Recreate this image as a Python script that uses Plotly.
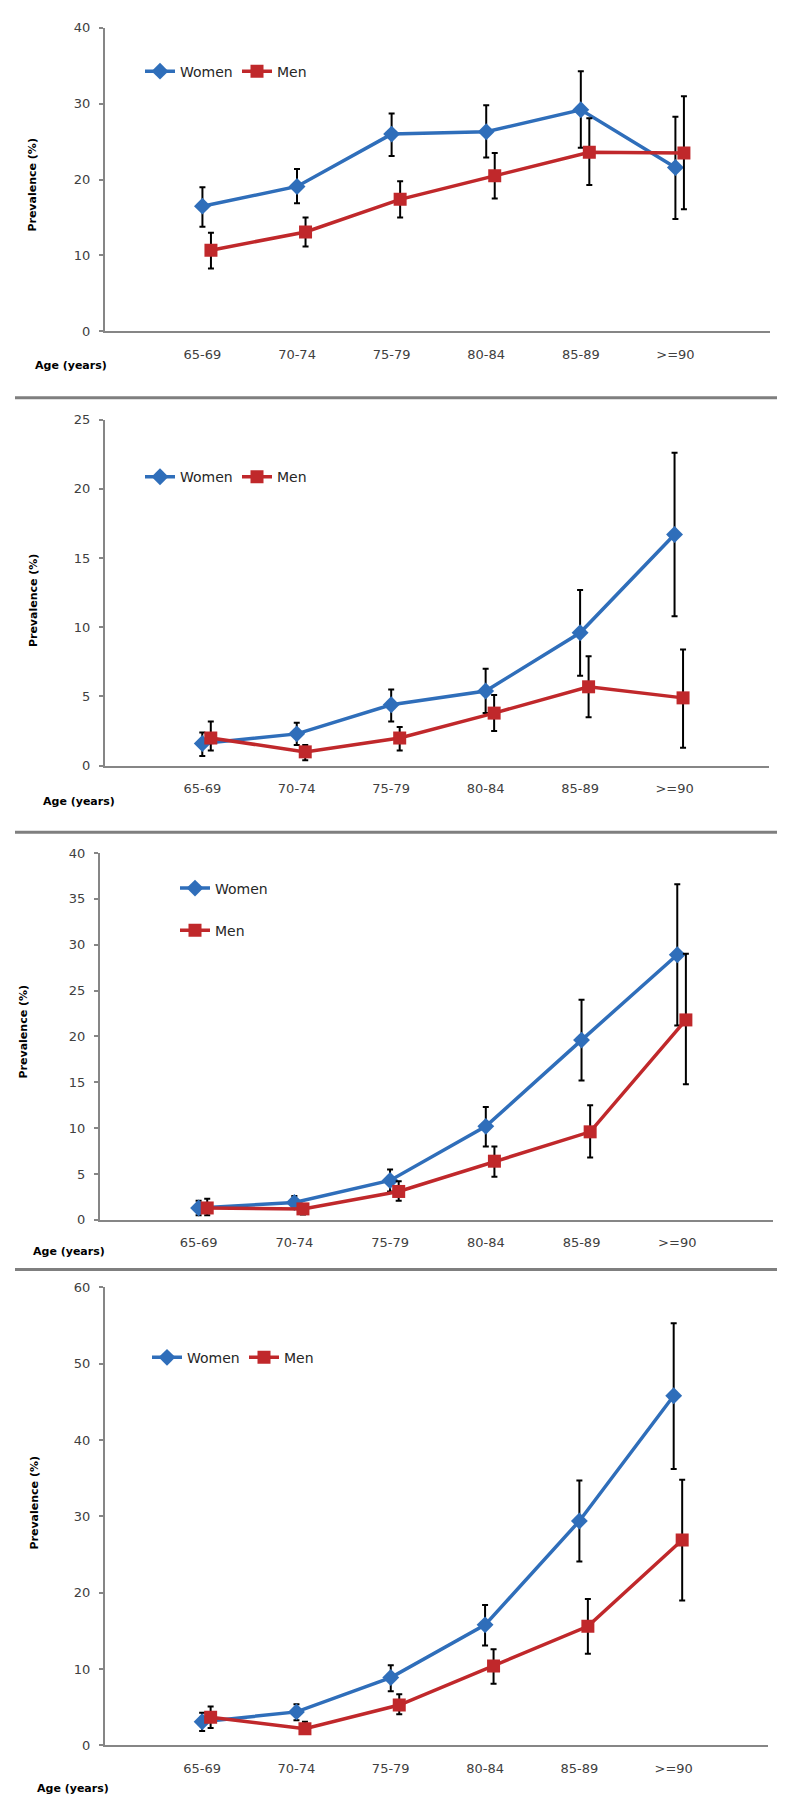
import plotly.graph_objects as go

W, H = 785, 1804

categories = ["65-69", "70-74", "75-79", "80-84", "85-89", ">=90"]

# Panel 1
p1_women = [16.5, 19.1, 26.0, 26.3, 29.2, 21.6]
p1_women_hi = [19.0, 21.4, 28.7, 29.8, 34.3, 28.3]
p1_women_lo = [13.8, 16.9, 23.1, 22.9, 24.2, 14.8]
p1_men = [10.7, 13.1, 17.4, 20.5, 23.6, 23.5]
p1_men_hi = [13.0, 15.0, 19.8, 23.5, 28.1, 31.0]
p1_men_lo = [8.3, 11.2, 15.0, 17.5, 19.3, 16.1]

# Panel 2
p2_women = [1.6, 2.3, 4.4, 5.4, 9.6, 16.7]
p2_women_hi = [2.4, 3.1, 5.5, 7.0, 12.7, 22.6]
p2_women_lo = [0.7, 1.5, 3.2, 3.8, 6.5, 10.8]
p2_men = [2.0, 1.0, 2.0, 3.8, 5.7, 4.9]
p2_men_hi = [3.2, 1.5, 2.8, 5.1, 7.9, 8.4]
p2_men_lo = [1.1, 0.4, 1.1, 2.5, 3.5, 1.3]

# Panel 3
p3_women = [1.3, 1.9, 4.3, 10.2, 19.6, 28.9]
p3_women_hi = [2.1, 2.6, 5.5, 12.3, 24.0, 36.6]
p3_women_lo = [0.5, 1.2, 3.1, 8.0, 15.2, 21.2]
p3_men = [1.3, 1.2, 3.1, 6.4, 9.6, 21.8]
p3_men_hi = [2.3, 1.6, 4.2, 8.0, 12.5, 29.0]
p3_men_lo = [0.5, 0.6, 2.1, 4.7, 6.8, 14.8]

# Panel 4
p4_women = [3.1, 4.4, 8.9, 15.8, 29.4, 45.8]
p4_women_hi = [4.3, 5.4, 10.5, 18.4, 34.7, 55.3]
p4_women_lo = [1.9, 3.3, 7.1, 13.1, 24.1, 36.2]
p4_men = [3.7, 2.2, 5.3, 10.4, 15.6, 26.9]
p4_men_hi = [5.1, 3.1, 6.7, 12.6, 19.2, 34.8]
p4_men_lo = [2.3, 1.5, 4.1, 8.1, 12.0, 19.0]

y_max = [40, 25, 40, 60]
y_dtick = [10, 5, 5, 10]

BLUE = "#2F6EBA"
RED = "#C0282B"
AXIS = "#868686"
FONT = "DejaVu Sans"


def fx(px):
    return px / W


def fy(py):
    return 1 - py / H


panels = [
    dict(w=p1_women, wh=p1_women_hi, wl=p1_women_lo, m=p1_men, mh=p1_men_hi, ml=p1_men_lo,
         x0=97, x1=762, ytop=13, ybot=319, leg=(132, 57), vert=False,
         agex=25, agey=353, prevx=25, prevy=171),
    dict(w=p2_women, wh=p2_women_hi, wl=p2_women_lo, m=p2_men, mh=p2_men_hi, ml=p2_men_lo,
         x0=97, x1=761, ytop=408, ybot=757, leg=(132, 466), vert=False,
         agex=33, agey=793, prevx=25, prevy=590),
    dict(w=p3_women, wh=p3_women_hi, wl=p3_women_lo, m=p3_men, mh=p3_men_hi, ml=p3_men_lo,
         x0=92, x1=765, ytop=845, ybot=1215, leg=(167, 902), vert=True,
         agex=23, agey=1247, prevx=15, prevy=1025),
    dict(w=p4_women, wh=p4_women_hi, wl=p4_women_lo, m=p4_men, mh=p4_men_hi, ml=p4_men_lo,
         x0=97, x1=760, ytop=1283, ybot=1745, leg=(139, 1354), vert=False,
         agex=27, agey=1788, prevx=27, prevy=1500),
]

fig = go.Figure()
idx = list(range(len(categories)))
men_offset = 0.09

annotations = []
layout_axes = {}
for k, p in enumerate(panels):
    n = k + 1
    xa = "x" if n == 1 else f"x{n}"
    ya = "y" if n == 1 else f"y{n}"
    legname = "legend" if n == 1 else f"legend{n}"

    fig.add_trace(go.Scatter(
        x=idx, y=p["w"], name="Women", mode="lines+markers",
        xaxis=xa, yaxis=ya, legend=legname, legendgroup=f"w{n}",
        line=dict(color=BLUE, width=3.5),
        marker=dict(symbol="diamond", size=13, color=BLUE),
        error_y=dict(type="data", symmetric=False,
                     array=[h - v for h, v in zip(p["wh"], p["w"])],
                     arrayminus=[v - l for v, l in zip(p["w"], p["wl"])],
                     color="black", thickness=2, width=3),
    ))
    fig.add_trace(go.Scatter(
        x=[i + men_offset for i in idx], y=p["m"], name="Men", mode="lines+markers",
        xaxis=xa, yaxis=ya, legend=legname, legendgroup=f"m{n}",
        line=dict(color=RED, width=3.5),
        marker=dict(symbol="square", size=13, color=RED),
        error_y=dict(type="data", symmetric=False,
                     array=[h - v for h, v in zip(p["mh"], p["m"])],
                     arrayminus=[v - l for v, l in zip(p["m"], p["ml"])],
                     color="black", thickness=2, width=3),
    ))

    xkey = "xaxis" if n == 1 else f"xaxis{n}"
    ykey = "yaxis" if n == 1 else f"yaxis{n}"
    layout_axes[xkey] = dict(
        domain=[fx(p["x0"]), fx(p["x1"])], anchor=ya, range=[-1.03, 6.0],
        tickmode="array", tickvals=idx, ticktext=categories,
        showgrid=False, zeroline=False, showline=True, linecolor=AXIS, linewidth=2,
        ticks="", ticklabelstandoff=10,
        tickfont=dict(family=FONT, size=13, color="#404040"),
    )
    layout_axes[ykey] = dict(
        domain=[fy(p["ybot"]), fy(p["ytop"])], anchor=xa, range=[0, y_max[k]],
        tickmode="linear", tick0=0, dtick=y_dtick[k],
        showgrid=False, zeroline=False, showline=True, linecolor=AXIS, linewidth=2,
        ticks="outside", ticklen=4, tickwidth=2, tickcolor=AXIS, ticklabelstandoff=6,
        tickfont=dict(family=FONT, size=13, color="#404040"),
    )
    leg = dict(
        x=fx(p["leg"][0]), y=fy(p["leg"][1]), xanchor="left", yanchor="middle",
        orientation="v" if p["vert"] else "h",
        bgcolor="rgba(0,0,0,0)", borderwidth=0,
        font=dict(family=FONT, size=14, color="#262626"),
        itemwidth=30,
    )
    if p["vert"]:
        leg["tracegroupgap"] = 21
    else:
        leg["entrywidth"] = 52
    layout_axes[legname] = leg

    annotations.append(dict(
        text="<b>Age (years)</b>", x=fx(p["agex"]), y=fy(p["agey"]),
        xref="paper", yref="paper", xanchor="left", yanchor="middle", showarrow=False,
        font=dict(family=FONT, size=11, color="black"),
    ))
    annotations.append(dict(
        text="<b>Prevalence (%)</b>", x=fx(p["prevx"]), y=fy(p["prevy"]),
        xref="paper", yref="paper", xanchor="center", yanchor="middle", showarrow=False,
        textangle=-90, font=dict(family=FONT, size=11, color="black"),
    ))

shapes = []
for sep in [386, 824, 1265]:
    shapes.append(dict(type="line", xref="paper", yref="paper",
                       x0=fx(7), x1=fx(778), y0=fy(sep), y1=fy(sep),
                       line=dict(color="#7F7F7F", width=3)))

fig.update_layout(
    width=W, height=H,
    margin=dict(l=0, r=0, t=0, b=0),
    paper_bgcolor="white", plot_bgcolor="white",
    showlegend=True,
    annotations=annotations, shapes=shapes,
    **layout_axes,
)

fig.write_html("out.html")
